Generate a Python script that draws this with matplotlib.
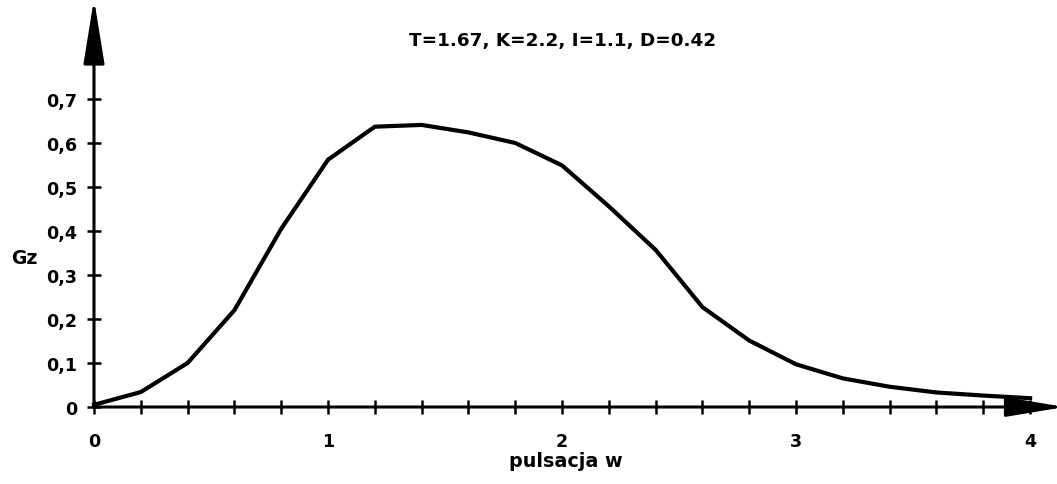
import matplotlib
matplotlib.use("Agg")
import matplotlib.pyplot as plt
import numpy as np

# pulsation w and |Gz| (vertices every 0.2)
w = [0.0, 0.2, 0.4, 0.6, 0.8, 1.0, 1.2, 1.4, 1.6, 1.8, 2.0,
     2.2, 2.4, 2.6, 2.8, 3.0, 3.2, 3.4, 3.6, 3.8, 4.0]
gz = [0.005, 0.034, 0.10, 0.22, 0.405, 0.562, 0.637, 0.641, 0.624, 0.600, 0.549,
      0.456, 0.357, 0.227, 0.151, 0.097, 0.065, 0.046, 0.033, 0.026, 0.020]

y_ticks = [0.0, 0.1, 0.2, 0.3, 0.4, 0.5, 0.6, 0.7]
y_labels = ["0", "0,1", "0,2", "0,3", "0,4", "0,5", "0,6", "0,7"]
title = "T=1.67, K=2.2, I=1.1, D=0.42"

plt.rcParams["font.family"] = ["DejaVu Sans"]
plt.rcParams["font.weight"] = "bold"

W, H = 1057, 485
fig = plt.figure(figsize=(W / 100, H / 100), dpi=100)
ax = fig.add_axes([94 / W, (H - 408) / H, (W - 94) / W, 400 / H])
ax.set_xlim(0, 4.115)
ax.set_ylim(0, 0.909)
for s in ax.spines.values():
    s.set_visible(False)

ax.plot(w, gz, color="black", lw=3.0, clip_on=False, solid_joinstyle="miter")

# axis arrows
ax.annotate("", xy=(0, 1.02), xytext=(0, 0), xycoords="axes fraction",
            arrowprops=dict(arrowstyle="-|>,head_length=40,head_width=6.5",
                            mutation_scale=1, lw=2.2, color="black",
                            shrinkA=0, shrinkB=0))
ax.annotate("", xy=(1.008, 0), xytext=(0, 0), xycoords="axes fraction",
            arrowprops=dict(arrowstyle="-|>,head_length=36,head_width=6",
                            mutation_scale=1, lw=2.2, color="black",
                            shrinkA=0, shrinkB=0))

minor = np.arange(0, 4.01, 0.2)
ax.set_yticks(y_ticks)
ax.set_yticklabels(y_labels)
ax.set_xticks(minor)
ax.set_xticklabels([str(int(round(t))) if abs(t - round(t)) < 1e-6 else "" for t in minor])
ax.tick_params(axis="both", direction="inout", length=10, width=1.8, labelsize=12.6)
ax.tick_params(axis="y", pad=7)
ax.tick_params(axis="x", pad=13)

fig.text(563 / W, 1 - 41 / H, title, ha="center", va="center", fontsize=13.2, fontweight="bold")
fig.text(24 / W, 1 - 258 / H, "Gz", ha="center", va="center", fontsize=13.5, fontweight="bold")
fig.text(566 / W, 1 - 462 / H, "pulsacja w", ha="center", va="center", fontsize=13.8, fontweight="bold")

fig.savefig("out.png", dpi=100)
